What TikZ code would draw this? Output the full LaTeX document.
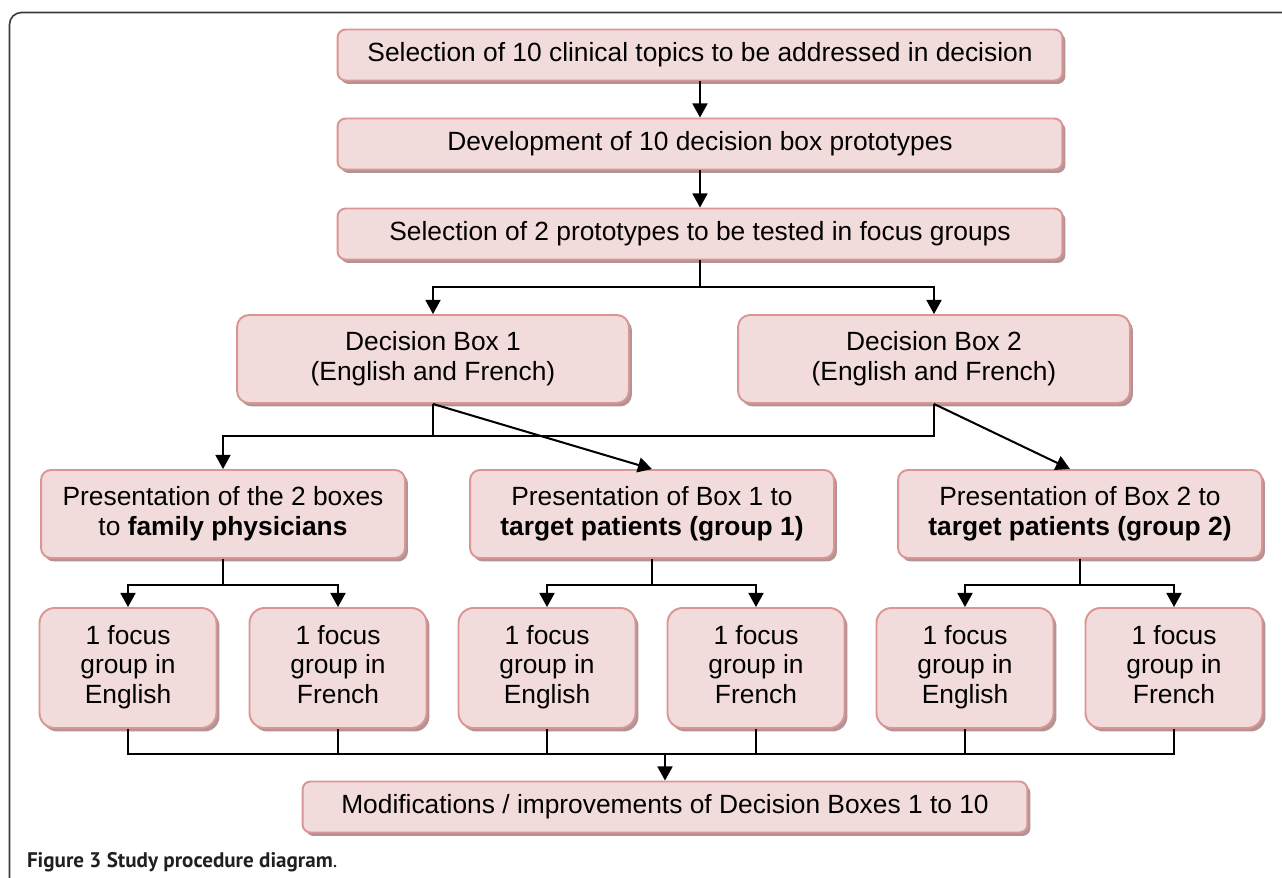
\documentclass[tikz,border=0pt]{standalone}
\usepackage{fontspec}
\setmainfont{Liberation Sans}
\newfontfamily\capfont{PT Sans}
\usetikzlibrary{arrows.meta,shadows}

\definecolor{boxfill}{HTML}{F2DCDB}
\definecolor{boxline}{HTML}{D99694}
\definecolor{boxshade}{HTML}{B39393}
\definecolor{framegray}{HTML}{3A3A3A}
\definecolor{captext}{HTML}{231F20}

\tikzset{
  box/.style={draw=boxline, fill=boxfill, line width=1.1pt, align=center, inner sep=2pt,
    font=\fontsize{15}{17}\selectfont,
    drop shadow={shadow xshift=0.06cm, shadow yshift=-0.07cm, fill=boxshade, opacity=1}},
  widebox/.style={box, rounded corners=0.16cm, minimum width=14.5cm, minimum height=1.02cm},
  langbox/.style={box, rounded corners=0.24cm, minimum width=7.84cm, minimum height=1.76cm},
  presbox/.style={box, rounded corners=0.2cm, minimum width=7.28cm, minimum height=1.76cm},
  focusbox/.style={box, rounded corners=0.3cm, minimum width=3.54cm, minimum height=2.4cm}
}

\begin{document}
\begin{tikzpicture}[x=0.02cm, y=-0.02cm, line width=1.15pt, >={Triangle[length=8pt,width=8.5pt]}]
    \useasboundingbox (0,0) rectangle (1282,878);
    \draw[framegray, line width=0.9pt, rounded corners=0.24cm] (9.5,878) -- (9.5,12.5) -- (1282,12.5);

    % preparation steps
    \node[widebox] (sel) at (700,55) {Selection of 10 clinical topics to be addressed in decision};
    \node[widebox] (dev) at (700,144) {Development of 10 decision box prototypes};
    \node[widebox] (two) at (700,234) {Selection of 2 prototypes to be tested in focus groups};
    \draw[->] (sel) -- (dev);
    \draw[->] (dev) -- (two);

    % the two decision boxes
    \node[langbox] (db1) at (433,359) {Decision Box 1\\(English and French)};
    \node[langbox] (db2) at (934,359) {Decision Box 2\\(English and French)};
    \coordinate (j1) at (700,287);
    \draw (two) -- (j1);
    \draw[->] (j1) -| (db1);
    \draw[->] (j1) -| (db2);

    % presentations
    \node[presbox] (pr1) at (223,514) {Presentation of the 2 boxes\\to \textbf{family physicians}};
    \node[presbox] (pr2) at (652,514) {Presentation of Box 1 to\\\textbf{target patients (group 1)}};
    \node[presbox] (pr3) at (1080,514) {Presentation of Box 2 to\\\textbf{target patients (group 2)}};
    \coordinate (k1) at (223,436);
    \draw (db1.south) -- (db1.south |- k1);
    \draw[->] (db2.south) |- (k1) -- (pr1);
    \draw[->] (db1.south) -- (pr2.north);
    \draw[->] (db2.south) -- ([xshift=-0.2cm]pr3.north);

    % focus groups
    \node[focusbox] (f1) at (128,668) {\strut 1 focus\\group in\\English\strut};
    \node[focusbox] (f2) at (338,668) {\strut 1 focus\\group in\\French\strut};
    \node[focusbox] (f3) at (547,668) {\strut 1 focus\\group in\\English\strut};
    \node[focusbox] (f4) at (756,668) {\strut 1 focus\\group in\\French\strut};
    \node[focusbox] (f5) at (965,668) {\strut 1 focus\\group in\\English\strut};
    \node[focusbox] (f6) at (1174,668) {\strut 1 focus\\group in\\French\strut};
    \foreach \p/\l/\r in {pr1/f1/f2, pr2/f3/f4, pr3/f5/f6} {
        \draw (\p.south) -- ++(0,26) coordinate (m);
        \draw[->] (m) -| (\l);
        \draw[->] (m) -| (\r);
    }

    % final step
    \node[widebox] (mod) at (665,807) {Modifications / improvements of Decision Boxes 1 to 10};
    \coordinate (j4) at (665,754);
    \draw (f1.south) |- (j4) -| (f6.south);
    \foreach \f in {f2,f3,f4,f5}
        \draw (\f.south) -- (\f.south |- j4);
    \draw[->] (j4) -- (mod);

    \node[anchor=west, inner sep=0pt, text=captext, font=\capfont\fontsize{12}{14}\selectfont] (cap) at (26,862)
        {\textbf{Figure 3 Study procedure diagram}.};
\end{tikzpicture}
\end{document}
